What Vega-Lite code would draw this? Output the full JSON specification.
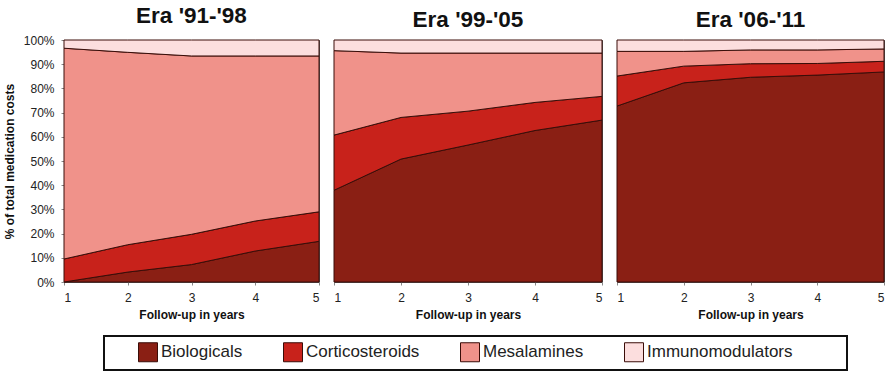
{
  "$schema": "https://vega.github.io/schema/vega-lite/v6.json",
  "padding": {"left": 2, "top": 4, "right": 1, "bottom": 2},
  "background": "white",
  "datasets": {
    "costs": [
      {"era": "91-98", "year": 1, "drug": "Biologicals", "pct": 0},
      {"era": "91-98", "year": 2, "drug": "Biologicals", "pct": 4.1},
      {"era": "91-98", "year": 3, "drug": "Biologicals", "pct": 7.2},
      {"era": "91-98", "year": 4, "drug": "Biologicals", "pct": 12.8},
      {"era": "91-98", "year": 5, "drug": "Biologicals", "pct": 16.8},
      {"era": "91-98", "year": 1, "drug": "Corticosteroids", "pct": 9.5},
      {"era": "91-98", "year": 2, "drug": "Corticosteroids", "pct": 11.3},
      {"era": "91-98", "year": 3, "drug": "Corticosteroids", "pct": 12.5},
      {"era": "91-98", "year": 4, "drug": "Corticosteroids", "pct": 12.4},
      {"era": "91-98", "year": 5, "drug": "Corticosteroids", "pct": 12.2},
      {"era": "91-98", "year": 1, "drug": "Mesalamines", "pct": 87.1},
      {"era": "91-98", "year": 2, "drug": "Mesalamines", "pct": 79.5},
      {"era": "91-98", "year": 3, "drug": "Mesalamines", "pct": 73.7},
      {"era": "91-98", "year": 4, "drug": "Mesalamines", "pct": 68.2},
      {"era": "91-98", "year": 5, "drug": "Mesalamines", "pct": 64.4},
      {"era": "91-98", "year": 1, "drug": "Immunomodulators", "pct": 3.4},
      {"era": "91-98", "year": 2, "drug": "Immunomodulators", "pct": 5.1},
      {"era": "91-98", "year": 3, "drug": "Immunomodulators", "pct": 6.6},
      {"era": "91-98", "year": 4, "drug": "Immunomodulators", "pct": 6.6},
      {"era": "91-98", "year": 5, "drug": "Immunomodulators", "pct": 6.6},
      {"era": "99-05", "year": 1, "drug": "Biologicals", "pct": 37.9},
      {"era": "99-05", "year": 2, "drug": "Biologicals", "pct": 50.8},
      {"era": "99-05", "year": 3, "drug": "Biologicals", "pct": 56.6},
      {"era": "99-05", "year": 4, "drug": "Biologicals", "pct": 62.6},
      {"era": "99-05", "year": 5, "drug": "Biologicals", "pct": 66.9},
      {"era": "99-05", "year": 1, "drug": "Corticosteroids", "pct": 22.8},
      {"era": "99-05", "year": 2, "drug": "Corticosteroids", "pct": 17.2},
      {"era": "99-05", "year": 3, "drug": "Corticosteroids", "pct": 14.0},
      {"era": "99-05", "year": 4, "drug": "Corticosteroids", "pct": 11.6},
      {"era": "99-05", "year": 5, "drug": "Corticosteroids", "pct": 9.8},
      {"era": "99-05", "year": 1, "drug": "Mesalamines", "pct": 34.9},
      {"era": "99-05", "year": 2, "drug": "Mesalamines", "pct": 26.6},
      {"era": "99-05", "year": 3, "drug": "Mesalamines", "pct": 24.0},
      {"era": "99-05", "year": 4, "drug": "Mesalamines", "pct": 20.4},
      {"era": "99-05", "year": 5, "drug": "Mesalamines", "pct": 17.9},
      {"era": "99-05", "year": 1, "drug": "Immunomodulators", "pct": 4.4},
      {"era": "99-05", "year": 2, "drug": "Immunomodulators", "pct": 5.4},
      {"era": "99-05", "year": 3, "drug": "Immunomodulators", "pct": 5.4},
      {"era": "99-05", "year": 4, "drug": "Immunomodulators", "pct": 5.4},
      {"era": "99-05", "year": 5, "drug": "Immunomodulators", "pct": 5.4},
      {"era": "06-11", "year": 1, "drug": "Biologicals", "pct": 72.7},
      {"era": "06-11", "year": 2, "drug": "Biologicals", "pct": 82.3},
      {"era": "06-11", "year": 3, "drug": "Biologicals", "pct": 84.6},
      {"era": "06-11", "year": 4, "drug": "Biologicals", "pct": 85.5},
      {"era": "06-11", "year": 5, "drug": "Biologicals", "pct": 86.8},
      {"era": "06-11", "year": 1, "drug": "Corticosteroids", "pct": 12.4},
      {"era": "06-11", "year": 2, "drug": "Corticosteroids", "pct": 6.9},
      {"era": "06-11", "year": 3, "drug": "Corticosteroids", "pct": 5.6},
      {"era": "06-11", "year": 4, "drug": "Corticosteroids", "pct": 4.8},
      {"era": "06-11", "year": 5, "drug": "Corticosteroids", "pct": 4.4},
      {"era": "06-11", "year": 1, "drug": "Mesalamines", "pct": 10.2},
      {"era": "06-11", "year": 2, "drug": "Mesalamines", "pct": 6.1},
      {"era": "06-11", "year": 3, "drug": "Mesalamines", "pct": 5.7},
      {"era": "06-11", "year": 4, "drug": "Mesalamines", "pct": 5.6},
      {"era": "06-11", "year": 5, "drug": "Mesalamines", "pct": 5.1},
      {"era": "06-11", "year": 1, "drug": "Immunomodulators", "pct": 4.7},
      {"era": "06-11", "year": 2, "drug": "Immunomodulators", "pct": 4.7},
      {"era": "06-11", "year": 3, "drug": "Immunomodulators", "pct": 4.1},
      {"era": "06-11", "year": 4, "drug": "Immunomodulators", "pct": 4.1},
      {"era": "06-11", "year": 5, "drug": "Immunomodulators", "pct": 3.7}
    ]
  },
  "data": {"name": "costs"},
  "transform": [
    {"calculate": "indexof(['Biologicals','Corticosteroids','Mesalamines','Immunomodulators'], datum.drug)", "as": "ord"}
  ],
  "spacing": 9,
  "hconcat": [
    {
      "width": 255,
      "height": 242,
      "title": "Era '91-'98",
      "transform": [{"filter": "datum.era === '91-98'"}],
      "mark": {"type": "area", "stroke": "#3a0d08", "strokeWidth": 1},
      "encoding": {
        "x": {"field": "year", "type": "quantitative", "scale": {"domain": [1, 5], "nice": false}, "axis": {"values": [1, 2, 3, 4, 5], "format": "d", "title": "Follow-up in years"}},
        "y": {"field": "pct", "type": "quantitative", "stack": "zero", "scale": {"domain": [0, 100], "nice": false}, "axis": {"values": [0, 10, 20, 30, 40, 50, 60, 70, 80, 90, 100], "labelExpr": "datum.value + '%'", "title": "% of total medication costs"}},
        "color": {"field": "drug", "type": "nominal", "scale": {"domain": ["Biologicals", "Corticosteroids", "Mesalamines", "Immunomodulators"], "range": ["#8a1f14", "#c8221b", "#f0928a", "#fcdede"]}, "legend": {"orient": "none", "legendX": 40, "legendY": 296, "direction": "horizontal", "title": "\u00a0", "titleOrient": "left", "titleFontSize": 17, "titlePadding": 28, "symbolType": "square", "symbolSize": 361, "symbolStrokeColor": "#5a1a14", "symbolStrokeWidth": 1, "symbolOpacity": 1, "labelFontSize": 17, "labelFont": "Liberation Sans", "labelColor": "#222", "labelLimit": 300, "labelExpr": "datum.label === 'Immunomodulators' ? datum.label + '\u2800\u2800\u2800\u2800' : datum.label", "columnPadding": 38, "labelOffset": 3, "strokeColor": "#111", "padding": 6}},
        "order": {"field": "ord", "type": "quantitative"}
      }
    },
    {
      "width": 268,
      "height": 242,
      "title": "Era '99-'05",
      "transform": [{"filter": "datum.era === '99-05'"}],
      "mark": {"type": "area", "stroke": "#3a0d08", "strokeWidth": 1},
      "encoding": {
        "x": {"field": "year", "type": "quantitative", "scale": {"domain": [1, 5], "nice": false}, "axis": {"values": [1, 2, 3, 4, 5], "format": "d", "title": "Follow-up in years"}},
        "y": {"field": "pct", "type": "quantitative", "stack": "zero", "scale": {"domain": [0, 100], "nice": false}, "axis": null},
        "color": {"field": "drug", "type": "nominal"},
        "order": {"field": "ord", "type": "quantitative"}
      }
    },
    {
      "width": 267,
      "height": 242,
      "title": "Era '06-'11",
      "transform": [{"filter": "datum.era === '06-11'"}],
      "mark": {"type": "area", "stroke": "#3a0d08", "strokeWidth": 1},
      "encoding": {
        "x": {"field": "year", "type": "quantitative", "scale": {"domain": [1, 5], "nice": false}, "axis": {"values": [1, 2, 3, 4, 5], "format": "d", "title": "Follow-up in years"}},
        "y": {"field": "pct", "type": "quantitative", "stack": "zero", "scale": {"domain": [0, 100], "nice": false}, "axis": null},
        "color": {"field": "drug", "type": "nominal"},
        "order": {"field": "ord", "type": "quantitative"}
      }
    }
  ],
  "resolve": {"scale": {"color": "shared"}},
  "config": {
    "view": {"stroke": "#555", "strokeWidth": 1},
    "title": {"font": "Liberation Sans", "fontSize": 22.5, "fontWeight": "bold", "color": "#111", "offset": 7, "anchor": "middle"},
    "axis": {"labelFont": "Liberation Sans", "labelFontSize": 12, "labelColor": "#222", "titleFont": "Liberation Sans", "titleFontSize": 12, "titleFontWeight": "bold", "titleColor": "#111", "grid": false, "domain": false, "tickColor": "#888", "tickSize": 3, "labelPadding": 7},
    "axisX": {"titlePadding": 6},
    "axisY": {"titlePadding": 7},
    "legend": {"strokeWidth": 2}
  }
}
